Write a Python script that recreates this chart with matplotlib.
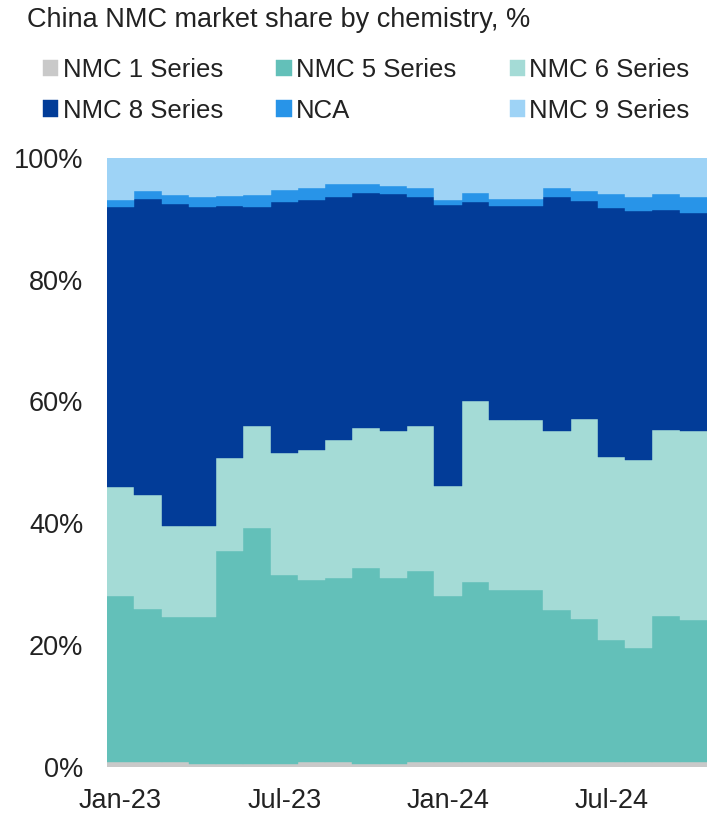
import numpy as np
import matplotlib
matplotlib.use("Agg")
import matplotlib.pyplot as plt
from matplotlib.ticker import PercentFormatter

plt.rcParams["font.family"] = ["Liberation Sans", "DejaVu Sans"]

months = ["Jan-23", "Feb-23", "Mar-23", "Apr-23", "May-23", "Jun-23",
          "Jul-23", "Aug-23", "Sep-23", "Oct-23", "Nov-23", "Dec-23",
          "Jan-24", "Feb-24", "Mar-24", "Apr-24", "May-24", "Jun-24",
          "Jul-24", "Aug-24", "Sep-24", "Oct-24"]

# share of each chemistry per month, %
nmc1 = [0.8, 0.8, 0.8, 0.5, 0.5, 0.5, 0.5, 0.8, 0.8, 0.5, 0.5, 0.8,
        0.8, 0.8, 0.8, 0.8, 0.8, 0.8, 0.8, 0.8, 0.8, 0.8]
nmc5 = [27.3, 25.1, 23.9, 24.2, 35.0, 38.8, 31.0, 29.9, 30.2, 32.1, 30.6, 31.4,
        27.3, 29.6, 28.3, 28.3, 24.9, 23.5, 20.1, 18.8, 24.0, 23.3]
nmc6 = [17.9, 18.8, 14.9, 14.9, 15.3, 16.7, 20.1, 21.4, 22.6, 23.0, 24.0, 23.7,
        18.0, 29.6, 27.9, 27.9, 29.4, 32.8, 30.0, 30.8, 30.5, 31.1]
nmc8 = [46.0, 48.6, 52.8, 52.4, 41.3, 35.9, 41.2, 40.9, 40.0, 38.6, 38.9, 37.6,
        46.1, 32.7, 35.1, 35.1, 38.5, 35.8, 40.8, 40.9, 36.2, 35.7]
nca = [1.1, 1.3, 1.5, 1.5, 1.7, 2.0, 1.9, 2.1, 2.1, 1.5, 1.4, 1.5,
       0.8, 1.6, 1.2, 1.2, 1.4, 1.7, 2.4, 2.2, 2.6, 2.6]
nmc9 = [6.9, 5.4, 6.1, 6.5, 6.2, 6.1, 5.3, 4.9, 4.3, 4.3, 4.6, 5.0,
        7.0, 5.7, 6.7, 6.7, 5.0, 5.4, 5.9, 6.5, 5.9, 6.5]

series = [
    ("NMC 1 Series", nmc1, "#c9c9c9"),
    ("NMC 5 Series", nmc5, "#63c0b9"),
    ("NMC 6 Series", nmc6, "#a4dbd6"),
    ("NMC 8 Series", nmc8, "#023c98"),
    ("NCA", nca, "#2894e8"),
    ("NMC 9 Series", nmc9, "#9ed3f6"),
]

fig = plt.figure(figsize=(7.07, 8.15), dpi=100)
ax = fig.add_axes([0.1513, 0.0589, 0.8487, 0.7475])

x = np.arange(len(months))
bottom = np.zeros(len(months))
handles = {}
for name, vals, color in series:
    vals = np.array(vals)
    bars = ax.bar(x, vals, width=1.0, bottom=bottom, color=color,
                  edgecolor=color, linewidth=0.3, label=name)
    handles[name] = bars
    bottom += vals

ax.set_xlim(-0.5, len(months) - 0.5)
ax.set_ylim(0, 100)
ax.yaxis.set_major_formatter(PercentFormatter(decimals=0))
ax.set_yticks(np.arange(0, 101, 20))
ax.set_xticks(x[::6])
ax.set_xticklabels(months[::6])
ax.tick_params(axis="both", length=0, labelsize=19.5, colors="#222222")
ax.tick_params(axis="y", pad=17)
ax.tick_params(axis="x", pad=15)
for s in ax.spines.values():
    s.set_visible(False)

fig.text(0.038, 0.967, "China NMC market share by chemistry, %",
         fontsize=19.5, color="#222222", va="baseline", ha="left")

# legend rows: 1/5/6 on top, 8/NCA/9 below
order = ["NMC 1 Series", "NMC 8 Series", "NMC 5 Series", "NCA",
         "NMC 6 Series", "NMC 9 Series"]
fig.legend([handles[n] for n in order], order, ncol=3, frameon=False,
           loc="upper left", bbox_to_anchor=(0.0608, 0.929),
           fontsize=18.5, handlelength=0.6, handleheight=0.6,
           handletextpad=0.16, columnspacing=2.09, labelspacing=0.65,
           labelcolor="#222222", borderaxespad=0, borderpad=0)

fig.savefig("out.png", dpi=100)
